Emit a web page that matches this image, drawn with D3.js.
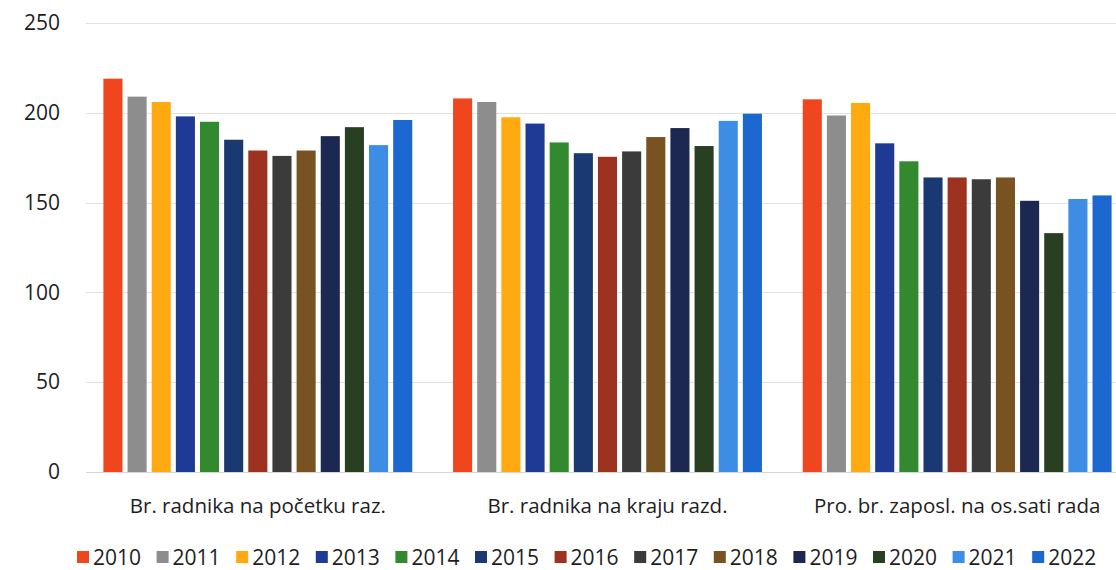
<!DOCTYPE html>
<html><head><meta charset="utf-8">
<script src="https://cdn.jsdelivr.net/npm/d3@7"></script>
<style>
html,body{margin:0;padding:0;background:#fff;}
text{font-family:"Open Sans",sans-serif;fill:#1e1e1e;}
</style></head>
<body><svg id="c" width="1116" height="570"></svg>
<script>
const categories = ["Br. radnika na početku raz.", "Br. radnika na kraju razd.", "Pro. br. zaposl. na os.sati rada"];
const years = ["2010","2011","2012","2013","2014","2015","2016","2017","2018","2019","2020","2021","2022"];
const valuesStart = [219, 209, 206, 198, 195, 185, 179, 176, 179, 187, 192, 182, 196];
const valuesEnd   = [208, 206, 197.5, 194, 183.5, 177.5, 175.5, 178.5, 186.5, 191.5, 181.5, 195.5, 199.5];
const valuesHours = [207.5, 198.5, 205.5, 183, 173, 164, 164, 163, 164, 151, 133, 152, 154];
const series = [valuesStart, valuesEnd, valuesHours];
const colors = ["#F0461E","#8D8D8D","#FFAA10","#1D3A94","#338A2E","#1A3872","#9C321F","#3B3B3B","#795221","#1C2852","#293F22","#3C8DE3","#1C67D0"];
const yTicks = [0, 50, 100, 150, 200, 250];

const svg = d3.select("#c");
const y = d3.scaleLinear().domain([0, 250]).range([472, 23]);
const x0 = d3.scaleBand().domain(categories).range([83, 1132]);
const x1 = d3.scaleBand().domain(years).range([0, x0.bandwidth()]).paddingInner(0.21).paddingOuter(0.845);

// gridlines
svg.append("g").selectAll("line").data(yTicks).join("line")
  .attr("x1", 86).attr("x2", 1116)
  .attr("y1", d => Math.round(y(d)) + 0.5).attr("y2", d => Math.round(y(d)) + 0.5)
  .attr("stroke", d => d === 0 ? "#d4d4d4" : "#e2e2e2").attr("stroke-width", 1.2);

// y axis labels
const yAxis = d3.axisLeft(y).tickValues(yTicks).tickSize(0).tickPadding(0);
const ga = svg.append("g").attr("transform", "translate(60,0)").call(yAxis);
ga.select(".domain").remove();
ga.selectAll("text").style("font-family", '"Open Sans",sans-serif').style("font-size", "21px").attr("fill", "#333");

// bars
const groups = svg.append("g").selectAll("g").data(categories).join("g")
  .attr("transform", d => `translate(${x0(d)},0)`);
groups.selectAll("rect").data((d, i) => years.map((yr, j) => ({yr, v: series[i][j], j})))
  .join("rect")
  .attr("x", d => x1(d.yr)).attr("width", x1.bandwidth())
  .attr("y", d => y(d.v)).attr("height", d => y(0) - y(d.v))
  .attr("fill", d => colors[d.j]);

// category labels
svg.append("g").selectAll("text").data(categories).join("text")
  .attr("x", d => x0(d) + x0.bandwidth() / 2).attr("y", 513)
  .attr("text-anchor", "middle").style("font-size", "20.5px").text(d => d);

// legend
const lg = svg.append("g").selectAll("g").data(years).join("g")
  .attr("transform", (d, i) => `translate(${77 + i * 79.6},551)`);
lg.append("rect").attr("width", 12).attr("height", 12).attr("fill", (d, i) => colors[i]);
lg.append("text").attr("x", 16).attr("y", 13.5).style("font-size", "21px").text(d => d);
</script></body></html>
